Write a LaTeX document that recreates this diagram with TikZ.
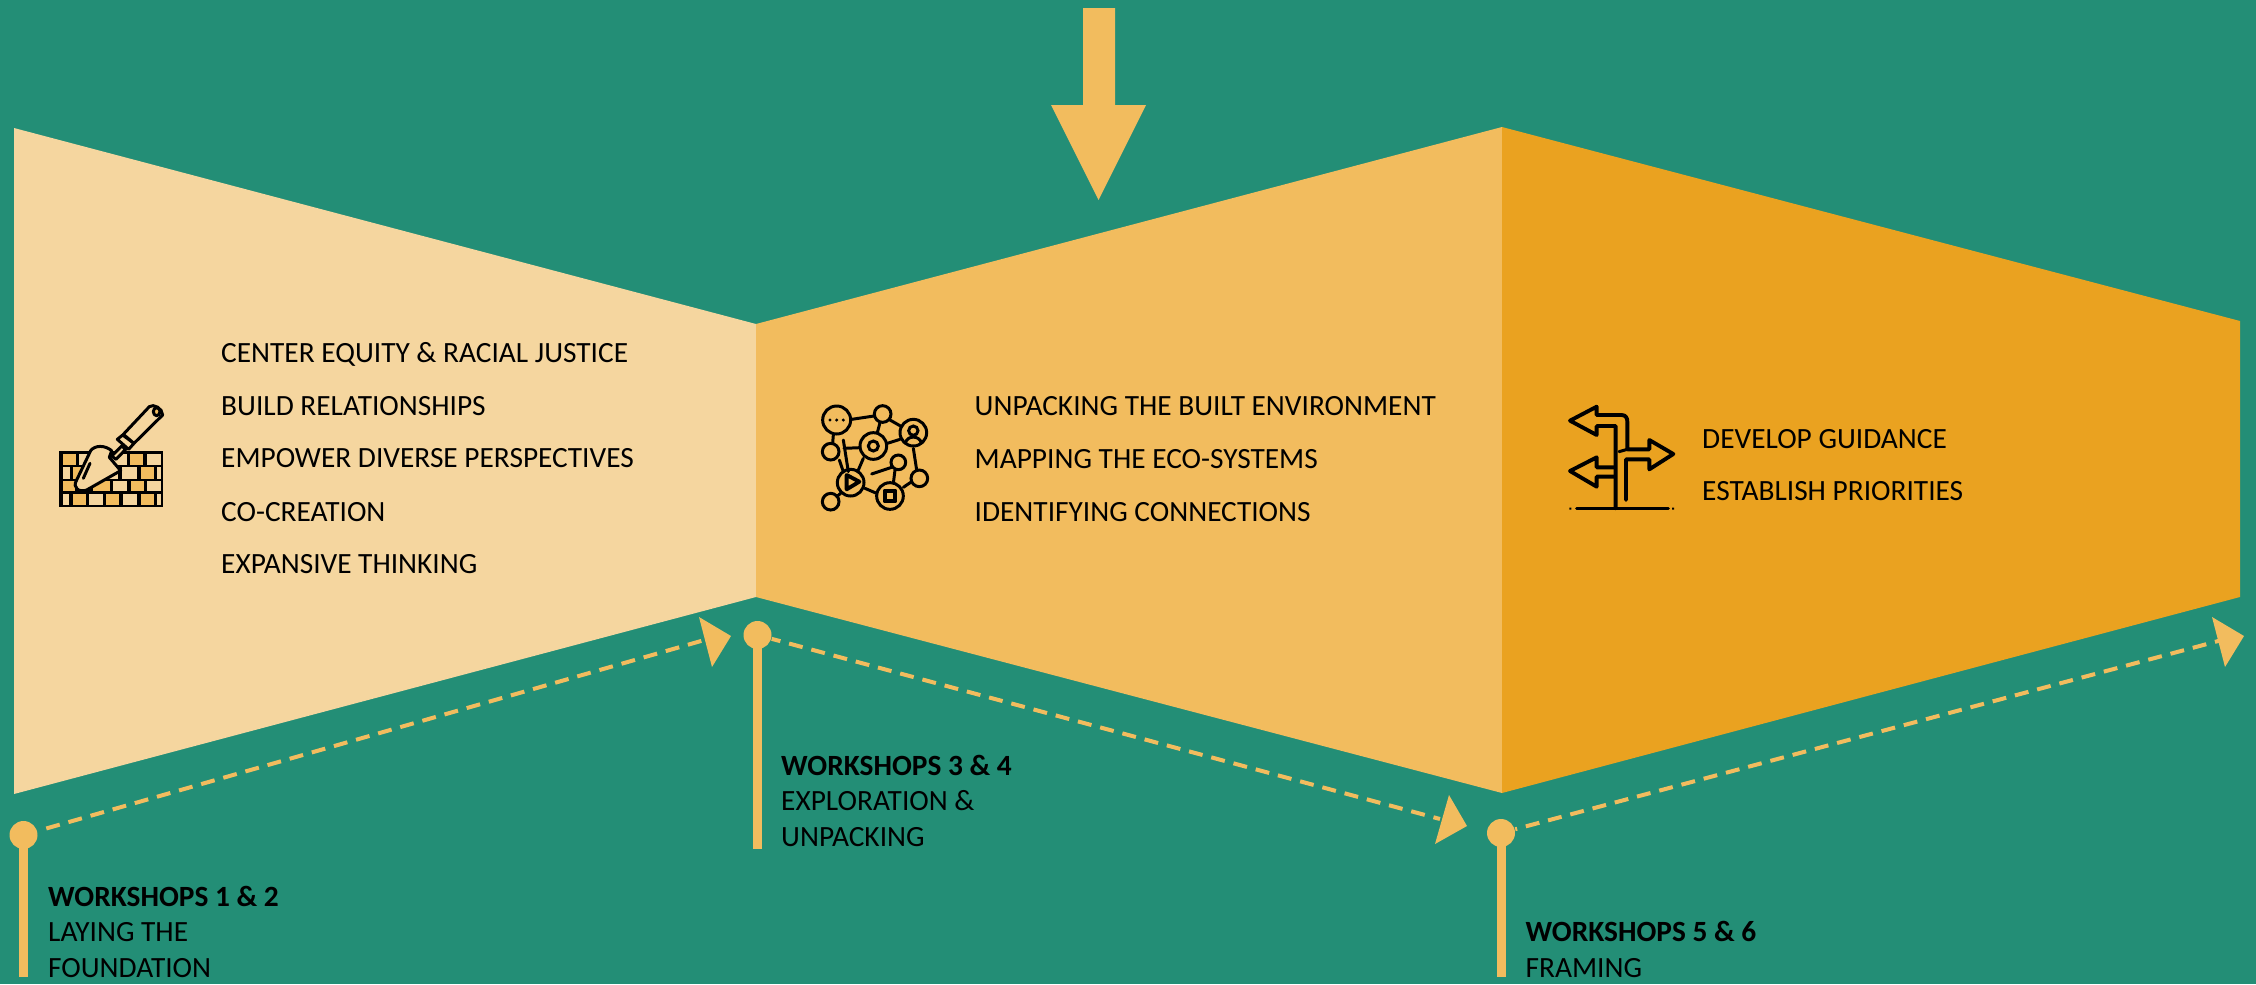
\documentclass[tikz,border=0pt]{standalone}
\usepackage{fontspec}
\setmainfont{Carlito}
\definecolor{bgteal}{HTML}{238E76}
\definecolor{palegold}{HTML}{F5D69F}
\definecolor{midgold}{HTML}{F2BC5E}
\definecolor{deepgold}{HTML}{EAA220}
\tikzset{
  itemtext/.style={anchor=base west,inner sep=0pt,text=black,font=\fontsize{8.35pt}{9.96pt}\selectfont},
  wslabel/.style={anchor=base west,inner sep=0pt,text=black,align=left,font=\fontsize{8.35pt}{9.96pt}\selectfont},
  dotnode/.style={circle,fill=midgold,draw=none,minimum size=28*0.01cm,inner sep=0pt},
  stemline/.style={draw=midgold,line width=0.09cm},
  dashline/.style={draw=midgold,line width=0.04cm,dash pattern=on 0.14cm off 0.09cm},
  headfill/.style={fill=midgold,draw=none},
  iconline/.style={draw=black,line width=0.85pt,line cap=round,line join=round},
  netcirc/.style={draw=black,line width=0.85pt}
}
\begin{document}
\begin{tikzpicture}[x=0.01cm,y=-0.01cm]
\useasboundingbox (0,0) rectangle (2256,984);
\fill[bgteal] (0,0) rectangle (2256,984);
% panels
\fill[palegold] (14,128) -- (756,324) -- (756,597) -- (14,794) -- cycle;
\fill[midgold] (756,324) -- (1502,127) -- (1502,793) -- (756,597) -- cycle;
\fill[deepgold] (1502,127) -- (2240,321) -- (2240,597) -- (1502,793) -- cycle;
% top arrow
\fill[midgold] (1083,8) -- (1115,8) -- (1115,105) -- (1146,105) -- (1098.5,200) -- (1051,105) -- (1083,105) -- cycle;
% markers
\node[dotnode] (c1) at (23.5,835) {};
\node[dotnode] (c2) at (757.5,635) {};
\node[dotnode] (c3) at (1501,833) {};
\coordinate (s1) at (23.5,977);
\coordinate (s2) at (757.5,849);
\coordinate (s3) at (1501,977);
\coordinate (t1) at (708,639);
\coordinate (t2) at (1440,819);
\coordinate (t3) at (2222,640);
\draw[stemline] (c1.center) -- (s1);
\draw[stemline] (c2.center) -- (s2);
\draw[stemline] (c3.center) -- (s3);
\draw[dashline,dash phase=0.14cm] (c1) -- (t1);
\draw[dashline,dash phase=0.05cm] (c2) -- (t2);
\draw[dashline,dash phase=0.12cm] (c3) -- (t3);
\fill[headfill] (699,617) -- (731,636) -- (712,667) -- cycle;
\fill[headfill] (1449,795) -- (1467,826) -- (1435,844) -- cycle;
\fill[headfill] (2212,617) -- (2244,636) -- (2225,667) -- cycle;
% text
\node[itemtext] (a1) at (220.5,362) {CENTER EQUITY \& RACIAL JUSTICE};
\node[itemtext] (a2) at (220.5,415) {BUILD RELATIONSHIPS};
\node[itemtext] (a3) at (220.5,467) {EMPOWER DIVERSE PERSPECTIVES};
\node[itemtext] (a4) at (220.5,521) {CO-CREATION};
\node[itemtext] (a5) at (220.5,573) {EXPANSIVE THINKING};
\node[itemtext] (b1) at (974,415) {UNPACKING THE BUILT ENVIRONMENT};
\node[itemtext] (b2) at (974,468) {MAPPING THE ECO-SYSTEMS};
\node[itemtext] (b3) at (974,521) {IDENTIFYING CONNECTIONS};
\node[itemtext] (d1) at (1701.5,448) {DEVELOP GUIDANCE};
\node[itemtext] (d2) at (1701.5,500) {ESTABLISH PRIORITIES};
\node[wslabel] (w1) at (47.5,977) {\textbf{WORKSHOPS 1 \& 2}\\LAYING THE\\FOUNDATION};
\node[wslabel] (w2) at (780.5,846) {\textbf{WORKSHOPS 3 \& 4}\\EXPLORATION \&\\UNPACKING};
\node[wslabel] (w3) at (1525,977) {\textbf{WORKSHOPS 5 \& 6}\\FRAMING};
% brick icon
\begin{scope}[shift={(30,380)},x=0.01cm/3,y=-0.01cm/3]
\fill[black] (88,212) rectangle (400,382);
\foreach \a/\b/\c/\d/\k in {100/222/138/255/midgold,148/222/290/255/palegold,300/222/340/255/midgold,350/222/392/255/palegold,
 100/260/120/296/palegold,130/260/180/296/midgold,190/260/265/296/palegold,275/260/320/296/palegold,332/260/372/296/midgold,380/260/392/296/palegold,
 100/303/135/333/midgold,190/303/240/333/midgold,250/303/290/333/palegold,302/303/342/333/midgold,350/303/392/333/palegold,
 100/343/118/375/palegold,130/343/168/375/midgold,178/343/218/375/palegold,228/343/268/375/midgold,278/343/320/375/palegold,332/343/372/375/midgold,380/343/392/375/palegold}
 {\fill[\k] (\a,\b) rectangle (\c,\d);}
\draw[iconline,fill=palegold] (140,300) -- (182,212) .. controls (195,195) and (225,195) .. (245,212) -- (238,232) -- (272,272) -- (170,330) .. controls (150,338) and (125,325) .. (140,300) -- cycle;
\draw[iconline,fill=palegold] (245,228) -- (275,198) -- (287,208) -- (258,238) -- cycle;
\draw[iconline,fill=palegold] (262,178) -- (278,165) -- (312,190) -- (296,208) -- cycle;
\draw[iconline,fill=palegold] (280,163) -- (358,80) .. controls (370,70) and (398,85) .. (398,105) -- (312,190) -- cycle;
\draw[iconline,fill=midgold] (380,95) ellipse (10 and 12);
\draw[iconline] (160,295) -- (180,250);
\end{scope}
% network icon
\begin{scope}[shift={(800,380)},x=0.01cm/3,y=-0.01cm/3]
\foreach \x/\y/\r in {110/120/42,248/102/25,340/158/40,220/198/40,92/215/25,295/247/22,358/295/25,152/308/40,270/348/40,92/365/25,220/198/15}
 {\draw[netcirc] (\x,\y) circle (\r);}
\foreach \x in {90,110,130} {\fill[black] (\x,120) circle (5);}
\draw[iconline] (155,118) -- (222,108) (270,120) -- (305,140) (240,128) -- (232,158) (262,190) -- (300,178)
 (100,165) -- (98,190) (130,180) -- (145,275) (132,205) -- (180,203) (118,240) -- (130,275) (190,235) -- (175,270)
 (215,282) -- (275,262) (285,270) -- (280,310) (340,205) -- (350,270) (335,305) -- (310,322) (195,325) -- (230,340) (122,340) -- (110,350);
\draw[netcirc] (340,152) circle (14);
\draw[iconline] (316,190) .. controls (320,165) and (360,165) .. (364,190);
\draw[iconline,line width=1.1pt] (140,285) -- (178,305) -- (140,328) -- cycle;
\draw[iconline,line width=1.1pt] (254,332) rectangle (286,364);
\end{scope}
% signpost icon
\begin{scope}[shift={(1550,390)},x=0.01cm/3,y=-0.01cm/3]
\draw[iconline] (80,355) -- (355,355);
\fill[black] (58,353) rectangle (64,359) (366,353) rectangle (372,359);
\draw[iconline,line width=1.1pt] (197,355) -- (197,108) -- (140,108) -- (140,135) -- (60,92) -- (140,50) -- (140,75) -- (215,75) .. controls (228,75) and (232,85) .. (232,95) -- (232,178) -- (298,178) -- (298,150) -- (370,192) -- (298,238) -- (298,208) -- (228,208) -- (228,330);
\draw[iconline] (207,185) -- (232,178);
\draw[iconline,line width=1.1pt] (195,232) -- (140,232) -- (140,202) -- (60,243) -- (140,290) -- (140,260) -- (195,260);
\end{scope}
\end{tikzpicture}
\end{document}
